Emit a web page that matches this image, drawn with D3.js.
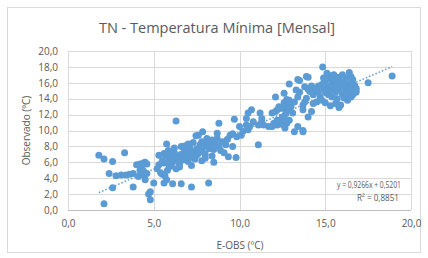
<!DOCTYPE html>
<html>
<head>
<meta charset="utf-8">
<script src="https://cdn.jsdelivr.net/npm/d3@7"></script>
<style>
  body { margin: 0; background: #fff; }
  text { font-family: "Open Sans", "Liberation Sans", sans-serif; fill: #595959; }
</style>
</head>
<body>
<div id="chart"></div>
<script>
// E-OBS (x) vs Observado (y), monthly minimum temperature
var eobs = [
  1.8, 2.1, 2.6, 3.3, 2.4, 2.8, 2.6, 3.1, 3.4, 3.6, 3.8, 3.8, 2.1, 4.0, 4.2, 4.4, 4.5, 4.6, 4.3, 4.4,
  4.4, 4.5, 4.1, 4.6, 4.2, 5.0, 4.8, 4.7, 4.8, 5.3, 5.6, 5.75, 5.85, 5.4, 5.5, 5.65, 5.75, 5.6, 6.1, 6.6,
  7.2, 8.2, 6.3,
  5.5, 5.7, 5.9, 6.0, 6.1, 6.2, 6.3, 6.4, 6.5, 6.6, 6.7, 6.8, 6.9, 7.0, 7.0, 7.1, 7.2, 7.3, 7.4, 7.5,
  7.6, 7.7, 7.8, 7.9, 8.0, 8.1, 8.2, 8.3, 8.4, 8.5, 8.6, 8.7, 8.8, 8.9, 9.0, 9.1, 6.0, 6.3, 5.8, 6.5,
  7.2, 7.8, 8.0, 8.4, 6.2, 6.6, 6.8, 6.9, 7.0, 7.3, 7.6, 7.85, 7.46, 7.8, 8.1, 8.3, 8.6, 8.7, 8.8, 9.2,
  8.5, 5.9, 6.2, 6.6, 7.1, 7.5, 5.6, 5.3, 5.2, 9.35, 9.8,
  9.45, 9.7, 9.84, 10.1, 10.0, 10.4, 10.5, 10.7, 10.6, 10.8, 11.1, 11.2, 11.3, 11.4, 11.7, 11.1, 9.6, 10.5, 10.4, 9.3,
  9.6, 10.2, 11.3,
  11.9, 12.2, 12.4, 12.55, 12.65, 12.0, 12.2, 12.5, 12.65, 12.75, 11.9, 12.1, 12.2, 12.1, 12.6, 12.75, 12.9, 12.9, 13.4, 13.9,
  13.3, 12.4, 12.55, 12.85, 13.0, 12.9, 13.2, 13.7, 13.4, 13.7, 12.3, 12.6, 12.9, 13.2, 13.4, 13.1, 12.7, 13.5, 13.8, 14.2,
  13.5, 13.9, 13.8, 13.7, 13.7, 14.0, 14.2, 14.3, 14.0, 14.1, 14.4, 14.0,
  14.85, 15.1, 15.5, 15.7, 15.8, 16.4, 16.5, 16.6, 16.7, 16.7, 16.8, 17.5, 18.9,
  14.8, 14.9, 15.0, 15.0, 15.1, 15.2, 15.2, 15.3, 15.4, 15.4, 15.5, 15.5, 15.6, 15.7, 15.7, 15.8, 15.9, 15.9, 16.0, 16.0,
  16.1, 16.1, 16.2, 16.3, 16.3, 16.4, 16.4, 16.5, 16.5, 16.6, 16.6, 16.7, 16.8, 16.8, 14.6, 14.7, 14.5, 14.6, 14.3, 14.8,
  15.0, 15.3, 15.6, 15.8, 14.9, 15.3, 16.2, 16.0, 15.5
];
var observado = [
  6.9, 6.4, 6.1, 7.2, 4.6, 4.3, 2.8, 4.4, 4.4, 4.5, 4.6, 2.9, 0.8, 5.7, 5.8, 5.9, 6.0, 5.8, 5.3, 4.9,
  4.4, 3.8, 4.2, 4.6, 5.0, 3.4, 2.3, 2.0, 1.3, 6.9, 7.1, 8.3, 7.5, 4.7, 4.5, 4.3, 3.8, 3.4, 3.3, 3.3,
  2.9, 3.4, 11.2,
  6.2, 6.8, 6.4, 6.9, 6.0, 7.2, 6.5, 6.8, 5.8, 7.0, 6.3, 7.5, 6.7, 7.0, 6.1, 7.8, 6.9, 7.3, 6.4, 7.7,
  7.1, 8.2, 7.4, 8.0, 7.0, 8.5, 7.7, 8.1, 8.8, 7.6, 8.4, 9.0, 8.0, 7.5, 8.6, 7.2, 5.5, 5.2, 5.0, 5.4,
  5.6, 6.2, 6.5, 6.8, 7.8, 8.0, 8.05, 7.8, 8.3, 8.5, 9.4, 9.85, 9.35, 8.6, 9.0, 8.4, 8.8, 9.65, 10.9, 8.2,
  6.0, 5.6, 6.3, 6.6, 6.6, 6.9, 5.9, 5.7, 5.2, 6.7, 6.6,
  9.4, 11.4, 9.2, 9.4, 10.5, 11.5, 12.2, 12.6, 10.5, 11.1, 10.7, 12.2, 11.1, 10.7, 10.5, 8.2, 9.6, 10.1, 10.7, 8.9,
  8.0, 9.9, 11.5,
  10.5, 10.7, 10.9, 10.7, 10.3, 10.9, 11.3, 11.7, 11.3, 10.9, 12.2, 12.4, 12.6, 14.2, 14.7, 13.9, 13.8, 15.85, 16.4, 16.8,
  15.1, 12.8, 12.8, 12.6, 13.0, 11.3, 9.85, 9.85, 10.5, 10.0, 13.0, 13.5, 13.2, 13.6, 14.2, 12.2, 12.1, 14.8, 15.5, 15.6,
  16.3, 14.05, 13.6, 13.2, 12.6, 11.7, 12.4, 13.4, 15.2, 14.9, 15.2, 16.7,
  18.0, 17.2, 17.0, 16.7, 16.35, 17.3, 16.8, 16.4, 15.7, 15.3, 15.1, 16.0, 16.85,
  15.8, 15.3, 14.8, 16.2, 15.6, 14.5, 16.5, 15.1, 15.9, 14.2, 15.4, 16.4, 14.8, 15.7, 14.0, 15.2, 16.0, 13.2, 14.6, 15.5,
  16.1, 14.1, 15.0, 15.8, 13.8, 14.6, 15.4, 16.0, 14.2, 15.0, 14.5, 15.6, 14.8, 15.3, 14.8, 14.2, 13.6, 15.6, 14.5, 13.8,
  13.5, 13.1, 13.4, 12.9, 16.6, 16.9, 16.6, 17.0, 16.9
];
var xTicks = [0, 5, 10, 15, 20];
var yTicks = [0, 2, 4, 6, 8, 10, 12, 14, 16, 18, 20];
var slope = 0.9266, intercept = 0.5201, r2 = "0,8851";

var width = 428, height = 258;
var plotLeft = 68, plotRight = 411, plotTop = 51, plotBottom = 210;
var blue = "#5b9bd5", grid = "#d9d9d9";
var fmt = function(d) { return d.toFixed(1).replace(".", ","); };
function fmt4(v) { return v.toFixed(4).replace(".", ","); }

var svg = d3.select("#chart").append("svg")
  .attr("width", width)
  .attr("height", height);

// chart frame
svg.append("rect")
  .attr("x", 7.5).attr("y", 7.5)
  .attr("width", 413).attr("height", 245)
  .attr("fill", "#fff").attr("stroke", grid);

var x = d3.scaleLinear().domain([0, 20]).range([plotLeft, plotRight]);
var y = d3.scaleLinear().domain([0, 20]).range([plotBottom, plotTop]);

// gridlines
svg.append("g").selectAll("line").data(yTicks).join("line")
  .attr("x1", plotLeft).attr("x2", plotRight)
  .attr("y1", function(d) { return Math.round(y(d)) + 0.5; })
  .attr("y2", function(d) { return Math.round(y(d)) + 0.5; })
  .attr("stroke", grid);
svg.append("g").selectAll("line").data(xTicks).join("line")
  .attr("y1", plotTop).attr("y2", plotBottom)
  .attr("x1", function(d) { return Math.round(x(d)) + 0.5; })
  .attr("x2", function(d) { return Math.round(x(d)) + 0.5; })
  .attr("stroke", grid);

// axes (labels only)
var xAxis = svg.append("g")
  .attr("transform", "translate(0," + (plotBottom + 7) + ")")
  .call(d3.axisBottom(x).tickValues(xTicks).tickSize(0).tickFormat(fmt));
var yAxis = svg.append("g")
  .attr("transform", "translate(" + (plotLeft - 7) + ",0)")
  .call(d3.axisLeft(y).tickValues(yTicks).tickSize(0).tickFormat(fmt));
[xAxis, yAxis].forEach(function(a) {
  a.attr("font-family", null);
  a.select(".domain").remove();
  a.selectAll("text").attr("font-size", 10).attr("fill", "#595959");
});
svg.append("line")
  .attr("x1", plotLeft).attr("x2", plotRight)
  .attr("y1", plotBottom + 0.5).attr("y2", plotBottom + 0.5)
  .attr("stroke", "#bfbfbf");

// points
var pts = eobs.map(function(v, i) { return [v, observado[i]]; });
svg.append("g").selectAll("circle").data(pts).join("circle")
  .attr("cx", function(d) { return x(d[0]); })
  .attr("cy", function(d) { return y(d[1]); })
  .attr("r", 3.5)
  .attr("fill", blue);

// linear trendline
var x0 = d3.min(eobs), x1 = d3.max(eobs);
svg.append("line")
  .attr("x1", x(x0)).attr("y1", y(slope * x0 + intercept))
  .attr("x2", x(x1)).attr("y2", y(slope * x1 + intercept))
  .attr("stroke", blue).attr("stroke-width", 1.5)
  .attr("stroke-dasharray", "1.5,2");

// equation label
svg.append("text")
  .attr("x", 401).attr("y", 188)
  .attr("text-anchor", "end").attr("font-size", 9)
  .attr("textLength", 64).attr("lengthAdjust", "spacingAndGlyphs")
  .text("y = " + fmt4(slope) + "x + " + fmt4(intercept));
svg.append("text")
  .attr("x", 399).attr("y", 201)
  .attr("text-anchor", "end").attr("font-size", 9)
  .attr("textLength", 42).attr("lengthAdjust", "spacingAndGlyphs")
  .text("R² = " + r2);

// titles
svg.append("text")
  .attr("x", 217).attr("y", 33)
  .attr("text-anchor", "middle").attr("font-size", 14.5)
  .text("TN - Temperatura Mínima [Mensal]");
svg.append("text")
  .attr("x", 240).attr("y", 249)
  .attr("text-anchor", "middle").attr("font-size", 10)
  .text("E-OBS (ºC)");
svg.append("text")
  .attr("transform", "translate(30," + ((plotTop + plotBottom) / 2) + ") rotate(-90)")
  .attr("text-anchor", "middle").attr("font-size", 10)
  .text("Observado (ºC)");
</script>
</body>
</html>
